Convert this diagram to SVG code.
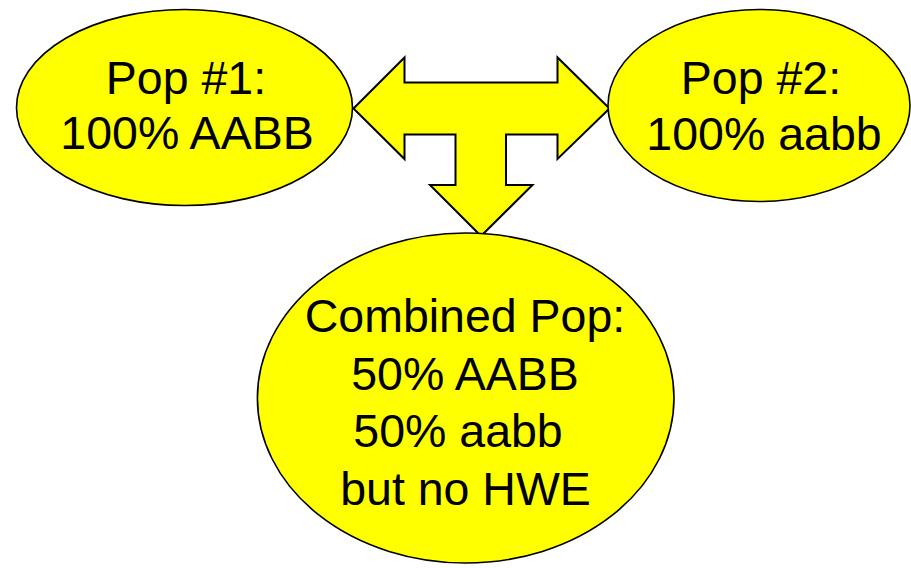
<svg xmlns="http://www.w3.org/2000/svg" width="911" height="568" viewBox="0 0 911 568">
<style>
.node{fill:#ffff00;stroke:#000;stroke-width:1.6}
.lbl{font-family:"Liberation Sans",Arial,sans-serif;font-size:46.5px;fill:#000;text-anchor:middle}
.arrow{fill:#ffff00;stroke:#000;stroke-width:2;stroke-linejoin:miter}
</style>
<rect width="911" height="568" fill="#fff"/>
<g id="connectors">
<path class="arrow" d="M353.5,108.5 L404.5,57.5 L404.5,82.5 L557.5,82.5 L557.5,57.5 L609.5,108.5 L557.5,159 L557.5,134.5 L506,134.5 L506,185 L532.5,185 L481,236 L430,185 L455.5,185 L455.5,134.5 L404.5,134.5 L404.5,159 Z"/>
</g>
<g id="pop1">
<ellipse class="node" cx="184.5" cy="107.5" rx="168" ry="98"/>
<text class="lbl" x="186" y="94">Pop #1:</text>
<text class="lbl" x="187" y="149">100% AABB</text>
</g>
<g id="pop2">
<ellipse class="node" cx="759" cy="105.5" rx="151" ry="96"/>
<text class="lbl" x="761" y="94">Pop #2:</text>
<text class="lbl" x="764" y="150">100% aabb</text>
</g>
<g id="combined">
<ellipse class="node" cx="465.7" cy="398" rx="208.3" ry="165"/>
<text class="lbl" x="465" y="332">Combined Pop:</text>
<text class="lbl" x="465" y="389.5">50% AABB</text>
<text class="lbl" x="458" y="447">50% aabb</text>
<text class="lbl" x="465.5" y="504.5">but no HWE</text>
</g>
</svg>
